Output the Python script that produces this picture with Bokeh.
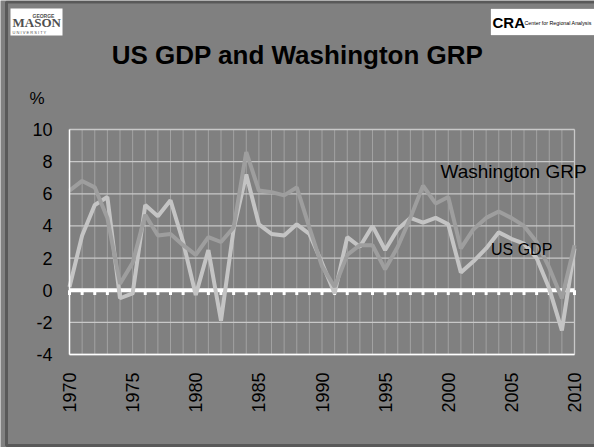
from math import pi
from bokeh.plotting import figure
from bokeh.models import (FixedTicker, Label, Range1d, BoxAnnotation, LinearAxis,
                          PrintfTickFormatter)
from bokeh.embed import file_html
from bokeh.resources import INLINE

# ---- data ----
years = list(range(1970, 2011))
us_gdp = [0.2, 3.4, 5.3, 5.8, -0.5, -0.2, 5.3, 4.6, 5.6, 3.0,
          -0.3, 2.5, -1.9, 3.8, 7.2, 4.1, 3.5, 3.4, 4.1, 3.5,
          1.7, -0.2, 3.3, 2.7, 4.0, 2.5, 3.8, 4.5, 4.2, 4.5,
          4.1, 1.1, 1.8, 2.6, 3.6, 3.2, 2.9, 2.0, 0.1, -2.5,
          2.6]
wa_grp = [6.2, 6.8, 6.4, 4.5, 0.4, 1.7, 4.7, 3.4, 3.5, 2.8,
          2.2, 3.3, 3.0, 3.9, 8.6, 6.2, 6.1, 5.9, 6.4, 3.9,
          1.5, 0.2, 2.2, 2.8, 2.8, 1.3, 2.7, 4.5, 6.5, 5.4,
          5.8, 2.6, 3.8, 4.5, 4.9, 4.5, 4.0, 3.0, 1.4, -0.5,
          2.8]
y_ticks = [-4, -2, 0, 2, 4, 6, 8, 10]
x_ticks = [1970, 1975, 1980, 1985, 1990, 1995, 2000, 2005, 2010]

# ---- layout (pixels) ----
W, H = 594, 447
FL, FR, FT, FB = 69, 574, 129, 354   # plot area edges
BG = "#808080"
FONT = "Liberation Sans"


def dx(px):
    return years[0] + (px - FL) * (years[-1] - years[0]) / (FR - FL)


def dy(py):
    return y_ticks[-1] - (py - FT) * (y_ticks[-1] - y_ticks[0]) / (FB - FT)


p = figure(width=W, height=H, output_backend="svg", toolbar_location=None,
           title=None, x_axis_location=None, y_axis_location=None,
           x_range=Range1d(dx(0), dx(W)), y_range=Range1d(dy(H), dy(0)),
           min_border=0, min_border_left=0, min_border_right=0,
           min_border_top=0, min_border_bottom=0,
           background_fill_color=BG, border_fill_color=BG)
p.outline_line_color = None
p.grid.visible = False

# ---- axes fixed to the plot-area edges ----
yaxis = LinearAxis(fixed_location=years[0], bounds=(y_ticks[0], y_ticks[-1]),
                   ticker=FixedTicker(ticks=y_ticks),
                   formatter=PrintfTickFormatter(format="%d"))
yaxis.major_label_text_font = FONT
yaxis.major_label_text_font_size = "18px"
yaxis.major_label_text_color = "black"
yaxis.major_tick_in = 0
yaxis.major_tick_out = 0
yaxis.minor_tick_in = 0
yaxis.minor_tick_out = 0
yaxis.axis_line_color = "white"
yaxis.axis_line_width = 1.5
yaxis.major_label_standoff = 17
p.add_layout(yaxis, "left")

xaxis = LinearAxis(fixed_location=y_ticks[0], bounds=(years[0], years[-1]),
                   ticker=FixedTicker(ticks=x_ticks),
                   formatter=PrintfTickFormatter(format="%d"))
xaxis.major_label_orientation = pi / 2
xaxis.major_label_text_font = FONT
xaxis.major_label_text_font_size = "18px"
xaxis.major_label_text_color = "black"
xaxis.major_tick_in = 0
xaxis.major_tick_out = 0
xaxis.minor_tick_in = 0
xaxis.minor_tick_out = 0
xaxis.axis_line_color = "white"
xaxis.axis_line_width = 1.5
xaxis.major_label_standoff = 18
p.add_layout(xaxis, "below")

# ---- grid lines inside the plot area ----
n = len(years)
m = len(y_ticks)
p.segment(x0=years, y0=[y_ticks[0]] * n, x1=years, y1=[y_ticks[-1]] * n,
          line_color="#a2a2a2", line_width=1)
p.segment(x0=[years[0]] * m, y0=y_ticks, x1=[years[-1]] * m, y1=y_ticks,
          line_color="#c8c8c8", line_width=1.3)
p.segment(x0=[years[-1]], y0=[y_ticks[0]], x1=[years[-1]], y1=[y_ticks[-1]],
          line_color="#c8c8c8", line_width=1.3)

# zero axis with year ticks
p.line(x=[years[0], years[-1]], y=[0, 0], line_color="white", line_width=4)
p.segment(x0=years, y0=[0] * n, x1=years, y1=[-0.3] * n,
          line_color="white", line_width=3)

# ---- series ----
p.line(years, us_gdp, line_color="#c4c4c4", line_width=4)
p.line(years, wa_grp, line_color="#9e9e9e", line_width=4)


def label(px, baseline_px, text, size, align="left", font=FONT, style="normal",
          color="black"):
    # place a text by its left/centre x and its baseline in slide pixels
    return Label(x=dx(px), y=dy(baseline_px - 0.45 * size), text=text,
                 text_align=align, text_baseline="alphabetic", text_font=font,
                 text_font_size=f"{size}px", text_font_style=style,
                 text_color=color)


# ---- texts ----
p.add_layout(label(297, 66, "US GDP and Washington GRP", 26, align="center",
                   style="bold"))
p.add_layout(label(29, 106, "%", 17))
p.add_layout(label(440, 180, "Washington GRP", 19))
p.add_layout(label(490.5, 256, "US GDP", 16))

# ---- logos (white boxes with text) ----
p.add_layout(BoxAnnotation(left=dx(10), right=dx(62), top=dy(8), bottom=dy(35),
                           fill_color="white", fill_alpha=1, line_color=None))
p.add_layout(label(12, 28, "MASON", 13, font="Liberation Serif", style="bold",
                   color="#505050"))
p.add_layout(label(32, 18, "GEORGE", 5, style="bold", color="#505050"))
p.add_layout(label(12, 33.5, "U N I V E R S I T Y", 4, color="#505050"))

p.add_layout(BoxAnnotation(left=dx(490), right=dx(600), top=dy(8), bottom=dy(35),
                           fill_color="white", fill_alpha=1, line_color="#202020",
                           line_width=1))
p.add_layout(label(492, 29, "CRA", 15, style="bold"))
p.add_layout(label(524, 25, "Center for Regional Analysis", 5.3))

# ---- black frame around the slide ----
p.add_layout(BoxAnnotation(left=dx(6), right=dx(W + 10), top=dy(1.5), bottom=dy(445),
                           fill_alpha=0, line_color="black", line_width=3))

open("out.html", "w").write(file_html(p, INLINE))
